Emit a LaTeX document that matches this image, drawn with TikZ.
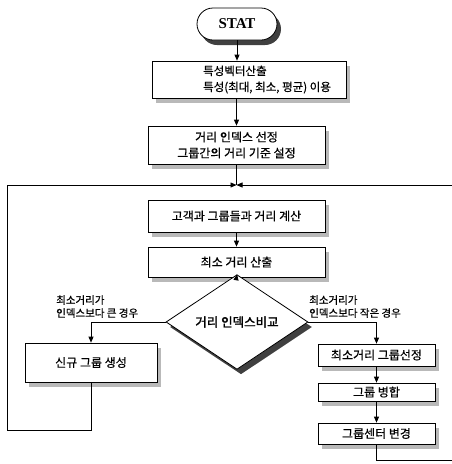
\documentclass[tikz,border=0pt]{standalone}
\usepackage{fontspec}
\setmainfont{Liberation Serif}
\newfontfamily\kr[FakeBold=0.6]{Noto Sans CJK KR}
\newfontfamily\krb[FakeBold=1.6]{Noto Sans CJK KR}
\usetikzlibrary{arrows.meta,shapes.geometric}
\begin{document}
\begin{tikzpicture}[x=1pt,y=-1pt,
  every node/.style={font=\kr\fontsize{12}{16}\selectfont},
  boxshadow/.style={preaction={fill=gray!55,draw=none,transform canvas={xshift=4pt,yshift=-5pt}}},
  darkshadow/.style={preaction={fill=black!75,draw=none,transform canvas={xshift=4pt,yshift=-5pt}}},
  procbox/.style={draw,fill=white,line width=0.7pt,inner sep=0pt,boxshadow},
  termbox/.style={draw,fill=white,line width=0.8pt,rounded corners=16pt,inner sep=0pt,darkshadow,
    font=\bfseries\fontsize{15}{16}\selectfont},
  decbox/.style={draw,fill=white,line width=0.8pt,diamond,inner sep=0pt,darkshadow,
    font=\krb\fontsize{12.5}{14}\selectfont},
  txt/.style={inner sep=0pt},
  lbl/.style={inner sep=0pt,align=left,font=\kr\fontsize{10.5}{13}\selectfont},
  conn/.style={line width=0.7pt},
  arr/.style={conn,-{Triangle[length=6pt,width=5pt]}}
]
\useasboundingbox (0,0) rectangle (452,464);

% nodes
\node[termbox,minimum width=80pt,minimum height=32pt] (term) at (237,24) {STAT};
\node[procbox,minimum width=194pt,minimum height=37pt] (b1) at (249,79.5) {};
\node[txt,anchor=west,align=left,font=\kr\fontsize{11.5}{16}\selectfont] (b1t) at (203,79.5) {특성벡터산출\\특성(최대, 최소, 평균) 이용};
\node[procbox,minimum width=177pt,minimum height=38pt,align=center] (b2) at (236.5,145) {거리 인덱스 선정\\그룹간의 거리 기준 설정};
\node[procbox,minimum width=177pt,minimum height=32pt] (b3) at (236.5,216) {고객과 그룹들과 거리 계산};
\node[procbox,minimum width=177pt,minimum height=30pt] (b4) at (236.5,262) {최소 거리 산출};
\node[decbox,minimum width=142pt,minimum height=62pt] (dia) at (237,322) {거리 인덱스비교};
\node[procbox,minimum width=132pt,minimum height=39pt] (lbox) at (91,362.5) {신규 그룹 생성};
\node[procbox,minimum width=117pt,minimum height=22pt] (r1) at (376.5,355) {최소거리 그룹선정};
\node[procbox,minimum width=117pt,minimum height=18pt] (r2) at (376.5,392) {그룹 병합};
\node[procbox,minimum width=117pt,minimum height=21pt] (r3) at (376.5,433.5) {그룹센터 변경};

\node[lbl,anchor=west] (ll) at (56,306.5) {최소거리가\\인덱스보다 큰 경우};
\node[lbl,anchor=west] (rl) at (309,306.5) {최소거리가\\인덱스보다 작은 경우};

\coordinate (J) at (236.5,185);
\coordinate (rtop) at (452,185);
\coordinate (rbot) at (452,460);
\coordinate (lcorner) at (7,430);

% connectors
\draw[arr] (term.south) -- (term.south |- b1.north);
\draw[arr] (b2.north |- b1.south) -- (b2.north);
\draw[conn] (b2.south) -- (J);
\draw[arr] (b3.south) -- (b4.north);
\draw[arr] (b4.south) -- (dia.north);
\draw[arr] (dia.west) -| (lbox.north);
\draw[arr] (dia.east) -| (r1.north);
\draw[arr] (r1.south) -- (r2.north);
\draw[arr] (r2.south) -- (r3.north);
\draw[conn] (r3.south) |- (rbot);
\draw[arr] (rtop) -- (J);
\draw[arr] (lbox.south) |- (lcorner) |- (J);
\end{tikzpicture}
\end{document}
